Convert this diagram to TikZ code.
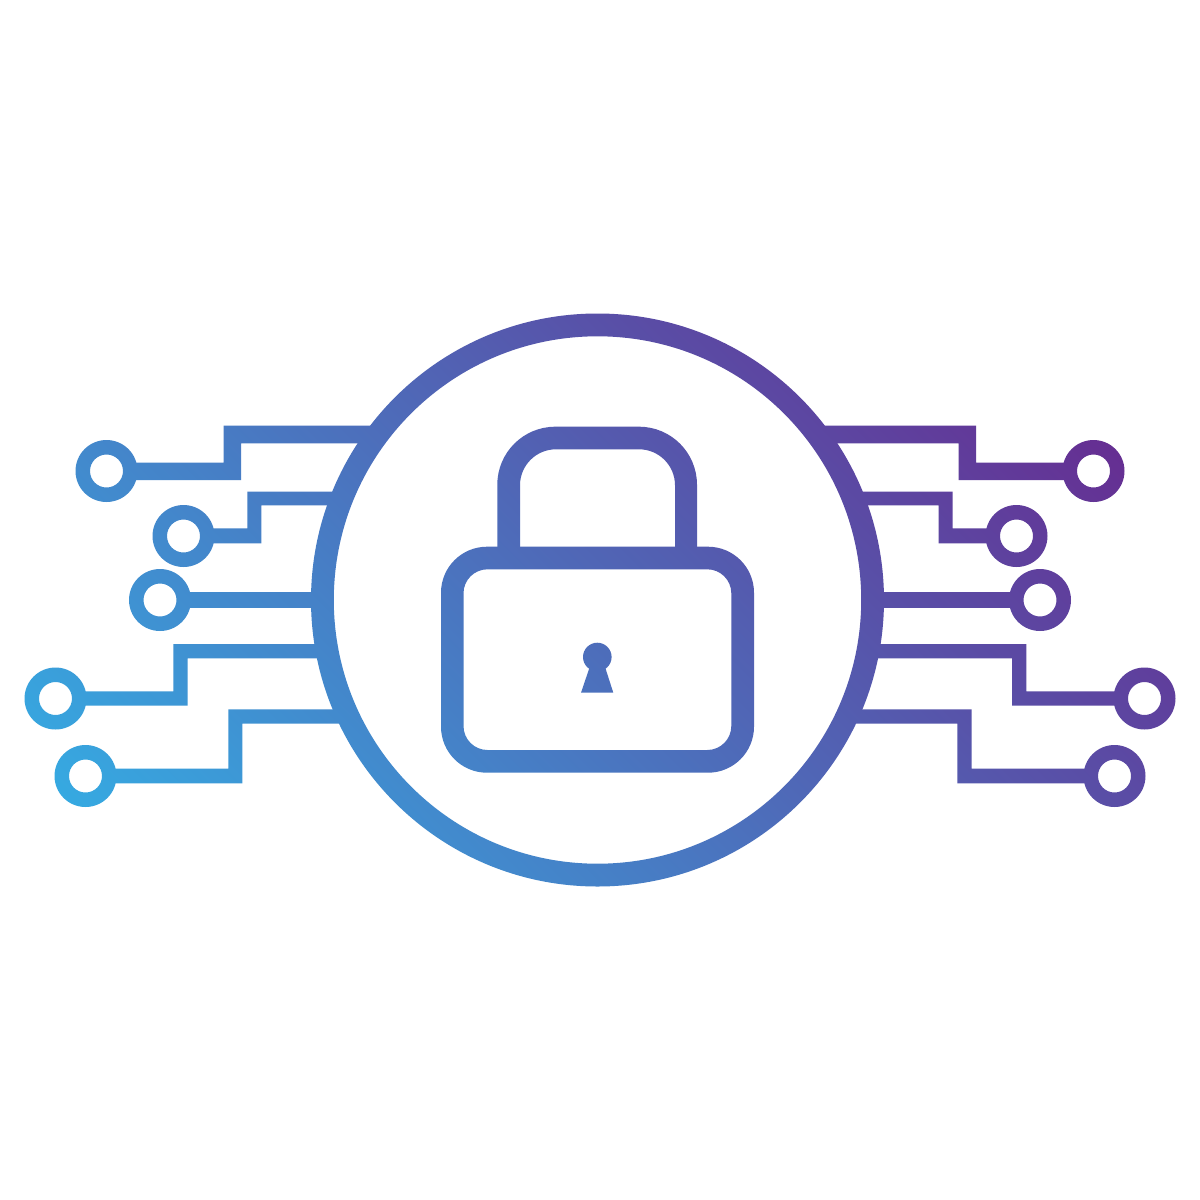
\documentclass[tikz,border=0pt]{standalone}
\definecolor{gradA}{HTML}{36A9E1}
\definecolor{gradB}{HTML}{662D91}
\pgfdeclarehorizontalshading{lockgrad}{2400pt}{color(0pt)=(gradA); color(100pt)=(gradA); color(1103.4pt)=(gradB); color(1203.4pt)=(gradB)}
\newcommand{\gradbox}{\pgfinterruptboundingbox\pgftext[at=\pgfpoint{161.8pt}{-1038.2pt},left,rotate=45]{\pgfuseshading{lockgrad}}\endpgfinterruptboundingbox}
\newcommand{\gfill}[1]{\begin{scope}[even odd rule]\clip #1;\gradbox\end{scope}}
\newcommand{\terminal}[2]{\gfill{(#1,#2) circle[radius=31pt] (#1,#2) circle[radius=16.5pt]}}
\begin{document}
\begin{tikzpicture}[x=1pt,y=-1pt]
\path[use as bounding box,fill=white] (0,0) rectangle (1200,1200);
% wires, left
\gfill{(130,462.5)--(223.7,462.5)--(223.7,425.7)--(380,425.7)--(380,443.3)--(241,443.3)--(241,480)--(130,480)--cycle}
\gfill{(207,528.3)--(247.3,528.3)--(247.3,491.7)--(345,491.7)--(345,505.3)--(261.3,505.3)--(261.3,543.3)--(207,543.3)--cycle}
\gfill{(184,592.7)--(322,592.7)--(322,607)--(184,607)--cycle}
\gfill{(80,691.3)--(173.3,691.3)--(173.3,644)--(325,644)--(325,658.3)--(187.7,658.3)--(187.7,705.7)--(80,705.7)--cycle}
\gfill{(110,768.7)--(228.3,768.7)--(228.3,709.3)--(350,709.3)--(350,723.7)--(242.3,723.7)--(242.3,783.3)--(110,783.3)--cycle}
% wires, right
\gfill{(1070,462.5)--(976,462.5)--(976,425.7)--(815,425.7)--(815,443.3)--(958.7,443.3)--(958.7,480)--(1070,480)--cycle}
\gfill{(993,528.3)--(952.7,528.3)--(952.7,491.7)--(850,491.7)--(850,505.3)--(938.7,505.3)--(938.7,543.3)--(993,543.3)--cycle}
\gfill{(1016,592.7)--(872,592.7)--(872,607)--(1016,607)--cycle}
\gfill{(1120,691.3)--(1026.3,691.3)--(1026.3,644)--(870,644)--(870,658.3)--(1012,658.3)--(1012,705.7)--(1120,705.7)--cycle}
\gfill{(1090,768.7)--(971.7,768.7)--(971.7,709.3)--(845,709.3)--(845,723.7)--(957.3,723.7)--(957.3,783.3)--(1090,783.3)--cycle}
% terminals
\terminal{106.5}{471}
\terminal{183.5}{536}
\terminal{160}{600}
\terminal{55.5}{698.5}
\terminal{85.5}{776}
\terminal{1093.5}{471}
\terminal{1016.5}{536}
\terminal{1040}{600}
\terminal{1144.5}{698.5}
\terminal{1114.5}{776}
% big ring
\gfill{(597.5,600) circle[radius=286.5pt] (597.5,600) circle[radius=263.7pt]}
% shackle
\gfill{(497.3,556) [rounded corners=58pt] -- (497.3,426.7) -- (697,426.7) [sharp corners] -- (697,556) -- cycle (520,556) [rounded corners=36pt] -- (520,449.3) -- (675,449.3) [sharp corners] -- (675,556) -- cycle}
% body
\gfill{[rounded corners=46pt] (441,546.7) rectangle (754,772.7) [rounded corners=24pt] (463.5,569.3) rectangle (731.3,750)}
% keyhole
\gfill{(597.3,657) circle[radius=14.3pt]}
\gfill{(590.4,665)--(604.4,665)--(613.3,692.7)--(581,692.7)--cycle}
\end{tikzpicture}
\end{document}
